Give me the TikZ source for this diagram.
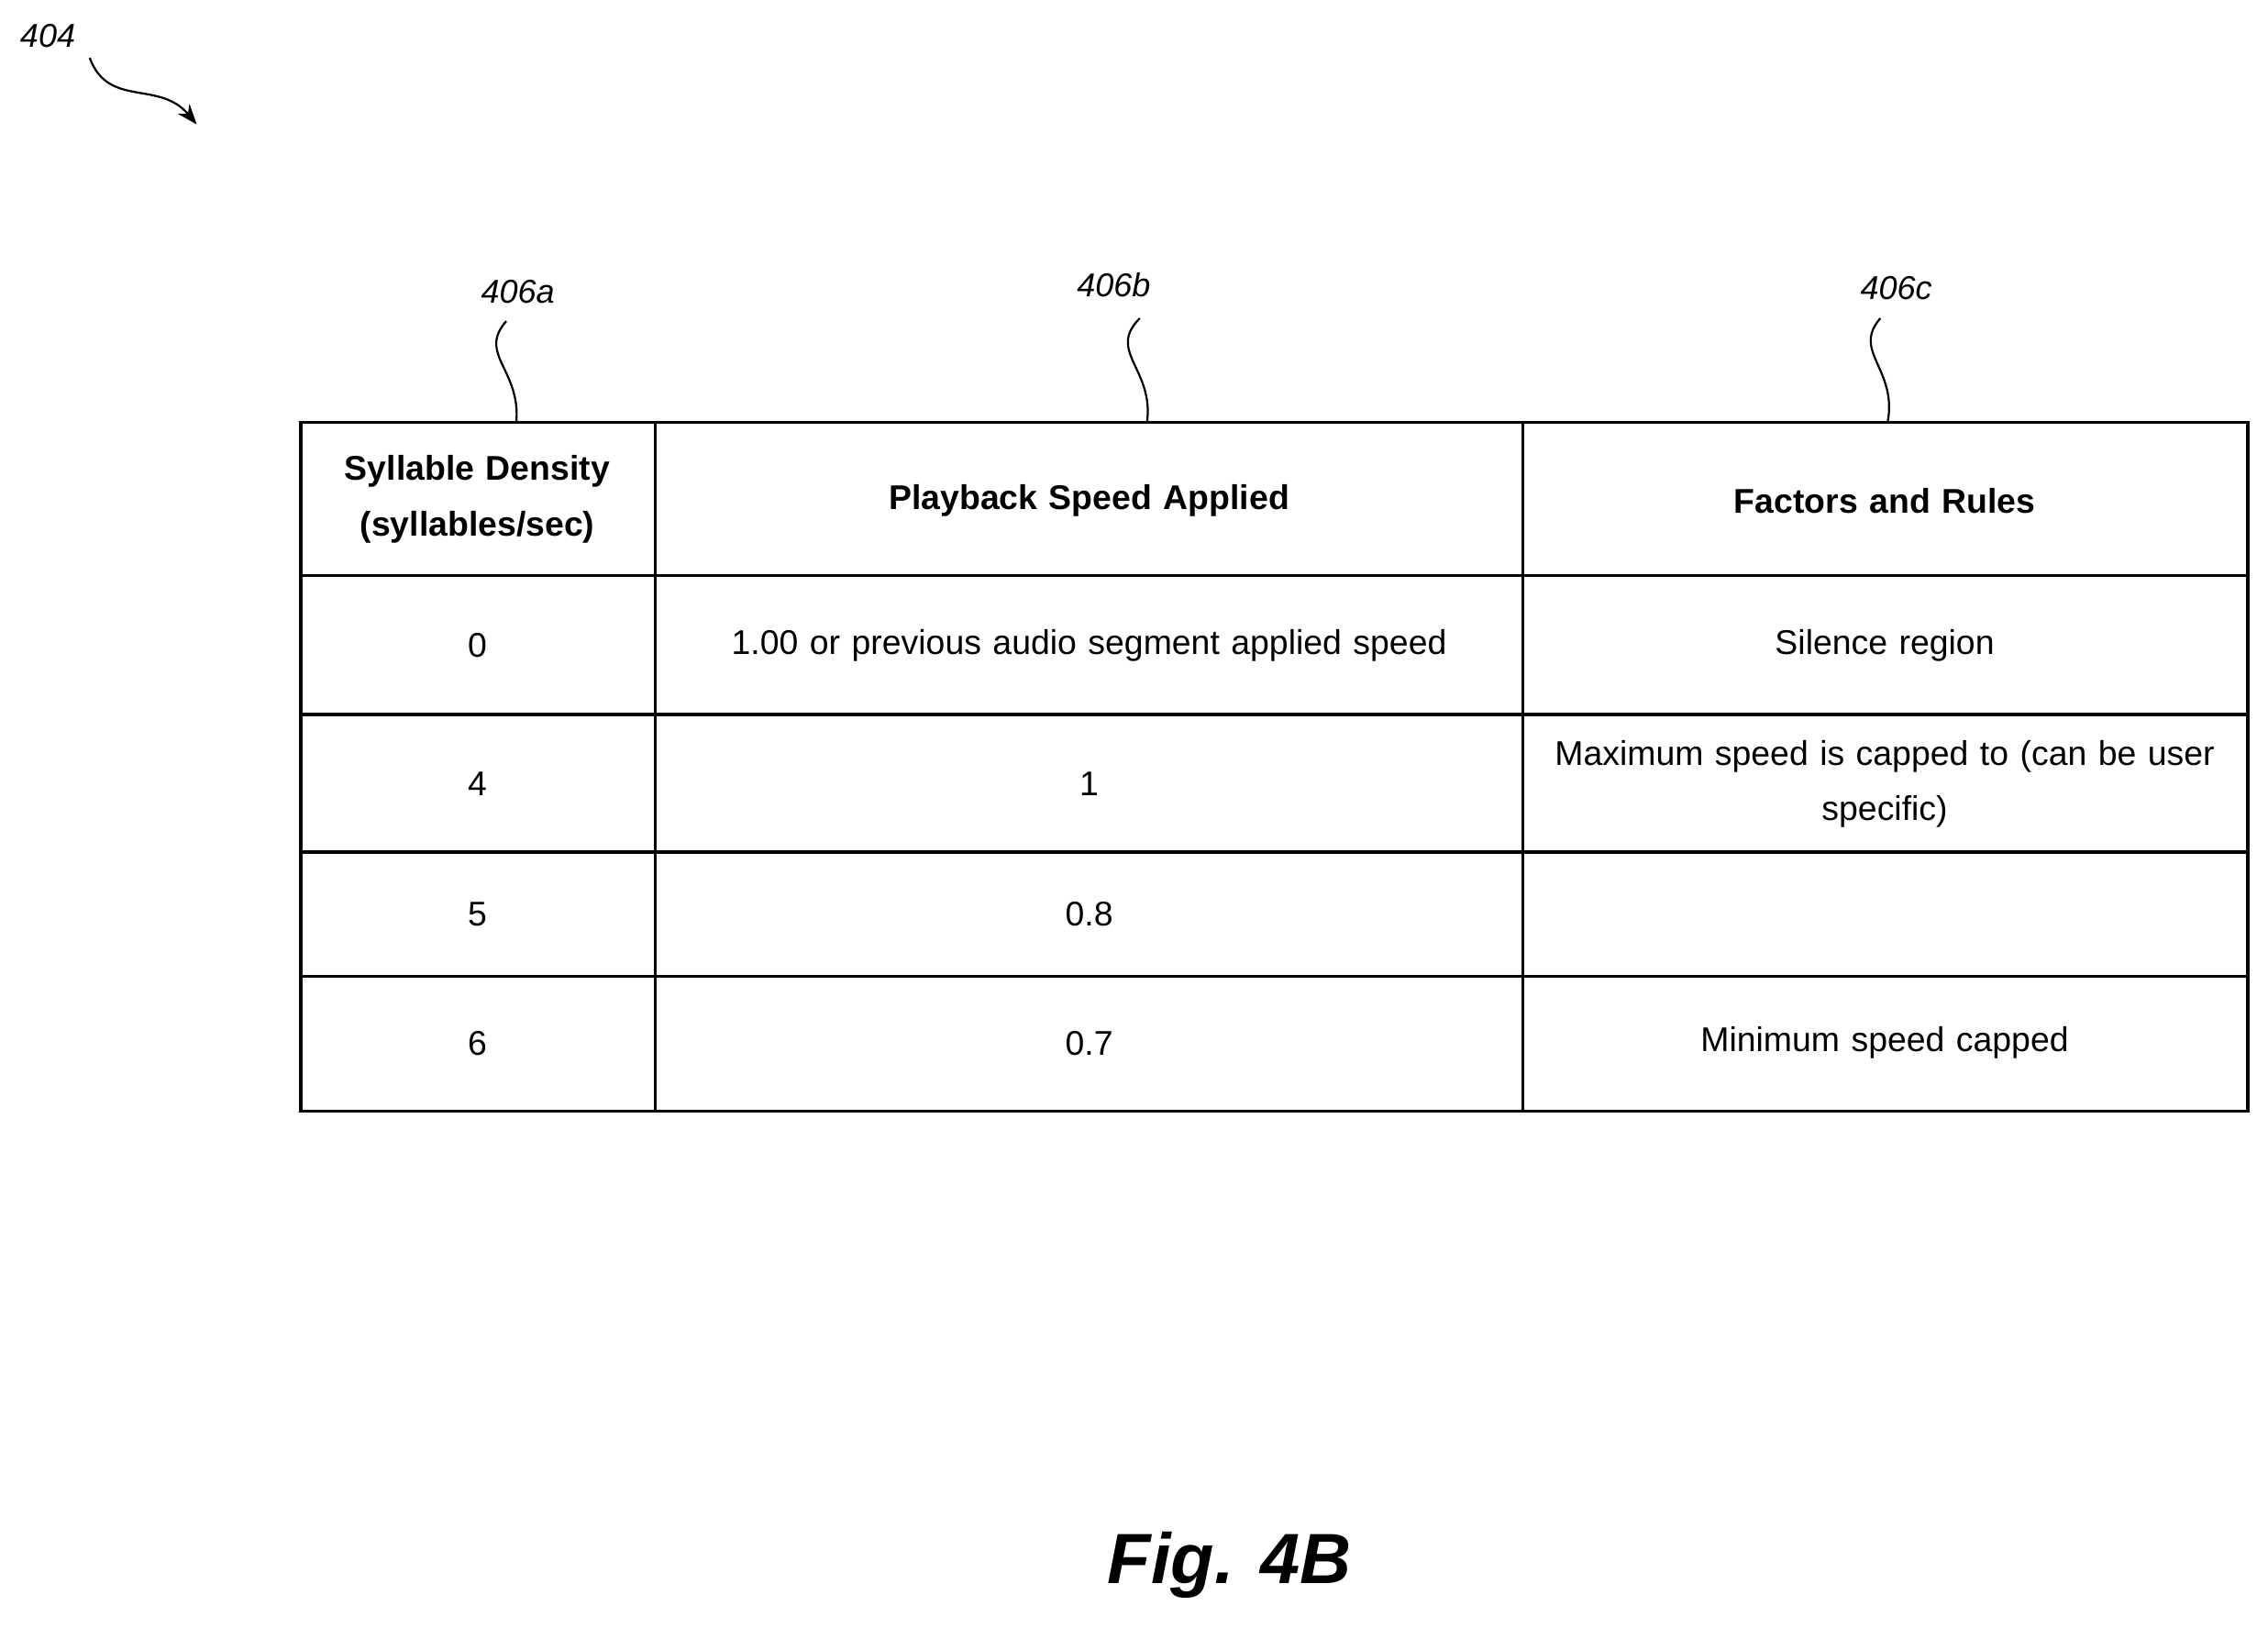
\documentclass[tikz,border=0pt]{standalone}
\usepackage{fontspec}
\setmainfont{Liberation Sans}
\usetikzlibrary{arrows.meta}
\begin{document}
\begin{tikzpicture}[x=0.02cm,y=-0.02cm,
  cell/.style={font=\fontsize{13.5}{22}\selectfont,align=center,text width=9.5cm},
  hd/.style={cell,font=\fontsize{13.5}{22}\selectfont\bfseries},
  lbl/.style={font=\fontsize{13}{15}\selectfont\itshape},
  tbl/.style={line width=1.2pt}]
\useasboundingbox (0,0) rectangle (1568,1125);
% table
\draw[tbl] (208,292) rectangle (1554,768);
\foreach \x in {453,1053} \draw[tbl] (\x,292) -- (\x,768);
\foreach \y in {398,494,589,675} \draw[tbl] (208,\y) -- (1554,\y);
% header
\node[hd,text width=4.5cm] (h1) at (330,345) {Syllable Density\\(syllables/sec)};
\node[hd] (h2) at (753,346) {Playback Speed Applied};
\node[hd] (h3) at (1303,346) {Factors and Rules};
\node[cell,text width=4.5cm] (a1) at (330,446) {0};
\node[cell,text width=11cm] (b1) at (753,446) {1.00 or previous audio segment applied speed};
\node[cell] (c1) at (1303,446) {Silence region};
\node[cell,text width=4.5cm] (a2) at (330,542) {4};
\node[cell] (b2) at (753,542) {1};
\node[cell] (c2) at (1303,542) {Maximum speed is capped to (can be user\\specific)};
\node[cell,text width=4.5cm] (a3) at (330,632) {5};
\node[cell] (b3) at (753,632) {0.8};
\node[cell,text width=4.5cm] (a4) at (330,721) {6};
\node[cell] (b4) at (753,721) {0.7};
\node[cell] (c4) at (1303,721) {Minimum speed capped};
% labels
\node[lbl] (l404) at (33,25) {404};
\node[lbl] (la) at (358,202) {406a};
\node[lbl] (lb) at (770,197) {406b};
\node[lbl] (lc) at (1311,199) {406c};
\coordinate (ea) at (357,292);
\coordinate (eb) at (793,292);
\coordinate (ec) at (1305,292);
\coordinate (e404) at (136,86);
\draw[line width=0.8pt] (350,222) .. controls (330,245) and (360,255) .. (ea);
\draw[line width=0.8pt] (788,220) .. controls (765,243) and (798,255) .. (eb);
\draw[line width=0.8pt] (1300,220) .. controls (1280,243) and (1312,255) .. (ec);
\draw[line width=0.8pt,-{Stealth[length=8pt]}] (62,40) .. controls (75,75) and (110,55) .. (e404);
\node[font=\fontsize{28}{30}\selectfont\bfseries\itshape] (fig) at (850,1082) {Fig. 4B};
\end{tikzpicture}
\end{document}
